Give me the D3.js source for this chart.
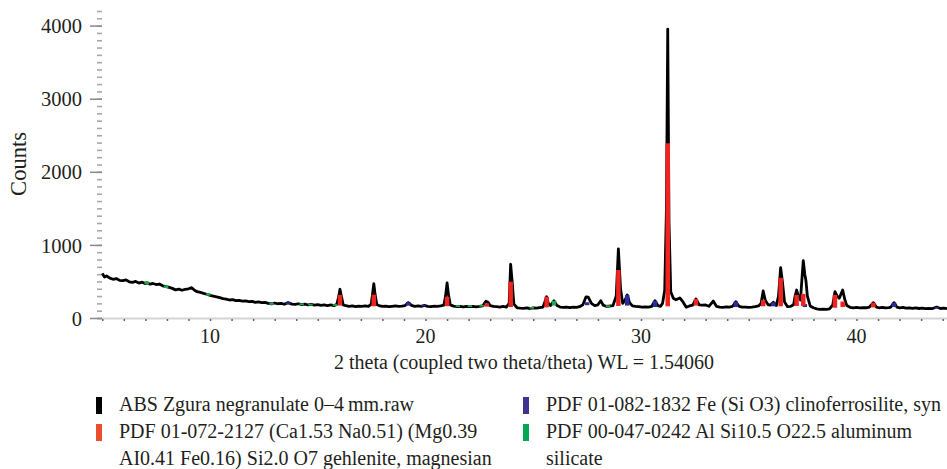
<!DOCTYPE html>
<html>
<head>
<meta charset="utf-8">
<script src="https://cdn.jsdelivr.net/npm/d3@7"></script>
<style>
  body { margin: 0; background: white; }
  svg text { font-family: "Liberation Serif", "DejaVu Serif", serif; fill: #231f20; }
</style>
</head>
<body>
<div id="vis"></div>
<script>
// measured pattern, [2theta, counts]
let rawPattern = [
  [5.00,610],[5.10,560],[5.20,575],[5.35,545],[5.50,530],[5.65,540],[5.80,515],[5.95,510],
  [6.10,520],[6.25,495],[6.40,488],[6.55,500],[6.70,478],[6.85,490],[7.00,470],[7.06,483],
  [7.20,465],[7.35,472],[7.50,458],[7.65,465],[7.80,440],[7.96,428],[8.10,420],[8.25,405],
  [8.40,385],[8.55,395],[8.70,380],[8.85,393],[9.00,400],[9.15,415],[9.28,380],[9.40,360],
  [9.55,350],[9.70,338],[9.85,325],[10.00,310],[10.15,300],[10.30,290],[10.45,278],[10.60,265],
  [10.75,258],[10.90,246],[11.05,250],[11.20,238],[11.35,242],[11.50,232],[11.65,235],[11.80,225],
  [11.95,228],[12.10,215],[12.25,220],[12.40,210],[12.55,214],[12.70,200],[12.86,192],[13.00,205],
  [13.15,195],[13.30,200],[13.45,188],[13.62,210],[13.80,190],[13.95,185],[14.10,195],[14.25,182],
  [14.40,190],[14.55,178],[14.70,185],[14.85,175],[15.00,182],[15.15,172],[15.30,180],[15.45,170],
  [15.60,178],[15.75,170],[15.88,185],[15.96,280],[16.03,393],[16.10,290],[16.18,180],[16.30,168],
  [16.45,160],[16.60,165],[16.75,155],[16.90,162],[17.05,158],[17.20,165],[17.35,160],[17.48,190],
  [17.54,330],[17.60,470],[17.66,320],[17.74,185],[17.88,165],[18.00,158],[18.15,162],[18.30,155],
  [18.45,160],[18.60,165],[18.75,158],[18.90,162],[19.05,170],[19.20,210],[19.35,172],[19.50,160],
  [19.65,165],[19.80,158],[19.95,172],[20.10,160],[20.25,155],[20.40,162],[20.55,158],[20.70,165],
  [20.85,175],[20.93,300],[21.00,480],[21.07,310],[21.15,180],[21.30,162],[21.45,155],[21.60,160],
  [21.75,152],[21.90,158],[22.05,155],[22.20,160],[22.35,152],[22.50,158],[22.65,165],[22.80,230],
  [22.90,215],[23.00,170],[23.15,160],[23.30,155],[23.45,150],[23.60,158],[23.75,150],[23.88,200],
  [23.95,735],[24.02,500],[24.10,190],[24.25,140],[24.40,135],[24.55,132],[24.70,138],[24.85,130],
  [25.00,140],[25.15,135],[25.30,142],[25.45,150],[25.55,230],[25.62,290],[25.70,200],[25.80,170],
  [25.96,235],[26.10,170],[26.25,150],[26.40,145],[26.55,148],[26.70,142],[26.85,150],[27.00,145],
  [27.15,155],[27.30,180],[27.45,290],[27.55,285],[27.70,200],[27.85,170],[28.00,180],[28.13,237],
  [28.25,175],[28.40,160],[28.55,164],[28.70,170],[28.85,300],[28.95,945],[29.05,400],[29.15,200],
  [29.25,240],[29.36,315],[29.47,210],[29.60,165],[29.75,158],[29.90,155],[30.05,148],[30.20,152],
  [30.35,150],[30.50,160],[30.65,235],[30.78,170],[30.90,160],[31.00,200],[31.10,380],[31.18,1500],
  [31.24,3953],[31.30,1300],[31.38,360],[31.50,270],[31.62,250],[31.80,275],[31.95,220],[32.10,146],
  [32.25,165],[32.40,175],[32.55,260],[32.70,180],[32.85,175],[33.00,178],[33.15,160],[33.35,232],
  [33.50,160],[33.65,150],[33.80,146],[33.95,152],[34.10,150],[34.25,160],[34.40,223],[34.55,160],
  [34.70,148],[34.85,150],[35.00,146],[35.15,150],[35.30,155],[35.45,165],[35.57,200],[35.67,370],
  [35.77,240],[35.90,180],[36.00,178],[36.14,215],[36.28,170],[36.38,300],[36.48,690],[36.56,500],
  [36.66,220],[36.80,155],[36.95,160],[37.08,180],[37.15,300],[37.22,383],[37.30,300],[37.40,246],
  [37.46,500],[37.53,785],[37.60,600],[37.65,520],[37.72,300],[37.85,165],[38.00,140],[38.15,125],
  [38.30,119],[38.45,122],[38.60,118],[38.75,125],[38.90,180],[39.00,360],[39.10,300],[39.20,270],
  [39.30,340],[39.36,383],[39.45,260],[39.55,170],[39.70,146],[39.85,140],[40.00,145],[40.15,138],
  [40.30,142],[40.45,140],[40.60,150],[40.78,210],[40.92,150],[41.05,140],[41.20,145],[41.35,138],
  [41.50,142],[41.60,150],[41.74,210],[41.88,148],[42.00,140],[42.15,145],[42.30,135],[42.45,140],
  [42.60,132],[42.75,138],[42.90,130],[43.05,135],[43.20,128],[43.35,132],[43.50,127],[43.72,150],
  [43.90,130],[44.05,135],[44.20,128]
]

// reference sticks, [2theta, bottom, top]
let gehleniteSticks = [
  [16.03,170,315],[17.60,160,320],[21.00,162,290],[22.84,155,200],[23.95,150,497],[25.62,145,290],
  [28.95,165,657],[31.24,160,2390],[32.55,170,260],[35.67,160,245],[36.48,160,550],[37.22,165,315],
  [37.53,165,330],[39.00,140,315],[39.36,150,225],[40.78,145,210]
]
let clinoferrositeSticks = [
  [13.62,185,215],[19.20,170,215],[19.90,160,180],[27.50,175,215],[29.36,170,315],[30.65,150,235],
  [34.40,150,225],[36.14,160,215],[37.60,150,190],[41.74,150,210],[43.72,130,150]
]
let silicateSticks = [
  [7.06,460,500],[7.96,410,445],[9.92,305,340],[12.86,180,205],[14.25,175,200],[14.66,170,195],
  [15.80,165,190],[21.50,150,175],[22.06,150,175],[22.60,155,180],[24.93,128,150],[25.96,170,235],
  [28.47,150,175]
]

let xTicks = [10, 20, 30, 40]
let yTicks = [0, 1000, 2000, 3000, 4000]

let legendItems = [
  { color: '#000000', lines: ['ABS Zgura negranulate 0\u20134\u2009mm.raw'] },
  { color: '#e94e2e', lines: ['PDF 01-072-2127 (Ca1.53 Na0.51) (Mg0.39', 'AI0.41 Fe0.16) Si2.0 O7 gehlenite, magnesian'] },
  { color: '#41328f', lines: ['PDF 01-082-1832 Fe (Si O3) clinoferrosilite, syn'] },
  { color: '#00a651', lines: ['PDF 00-047-0242 Al Si10.5 O22.5 aluminum', 'silicate'] }
]

let width = 947, height = 469

let svg = d3.select('#vis')
  .append('svg')
  .attr('width', width)
  .attr('height', height)
  .style('display', 'block')

let x = d3.scaleLinear().domain([5, 44.2]).range([102.3, 947])
let y = d3.scaleLinear().domain([0, 4200]).range([318, 11])

svg.append('defs').append('clipPath').attr('id', 'plotclip')
  .append('rect').attr('x', 99).attr('y', 0).attr('width', width - 99).attr('height', 320)

// x axis: light line with a small tick every degree
svg.append('line')
  .attr('x1', 97).attr('x2', width)
  .attr('y1', 318.5).attr('y2', 318.5)
  .attr('stroke', '#d4d4d4').attr('stroke-width', 2)

let xAxis = svg.append('g')
  .attr('transform', 'translate(0,319)')
  .call(d3.axisBottom(x).tickValues(d3.range(5, 45, 1)).tickSize(2).tickFormat(''))
xAxis.select('.domain').remove()
xAxis.selectAll('line').attr('stroke', '#666').attr('stroke-width', 1.5)

svg.append('g')
  .selectAll('text')
  .data(xTicks)
  .join('text')
  .attr('x', d => x(d))
  .attr('y', 343)
  .attr('text-anchor', 'middle')
  .style('font-size', '20px')
  .text(d => d)

// y axis: dotted look from minor ticks every 100 counts
let yMinor = svg.append('g')
  .attr('transform', 'translate(102,0)')
  .call(d3.axisLeft(y).tickValues(d3.range(0, 4300, 100)).tickSize(5).tickFormat(''))
yMinor.select('.domain').remove()
yMinor.selectAll('line').attr('stroke', '#a8a8a8').attr('stroke-width', 1.6)

let yMajor = svg.append('g')
  .attr('transform', 'translate(102,0)')
  .call(d3.axisLeft(y).tickValues(yTicks).tickSize(12).tickPadding(8).tickFormat(d3.format('d')))
yMajor.select('.domain').remove()
yMajor.selectAll('line').attr('stroke', '#8a8a8a').attr('stroke-width', 1.5)
yMajor.selectAll('text')
  .attr('dy', '0.35em')
  .style('font-size', '20.5px')
  .style('font-family', '"Liberation Serif", serif')
  .attr('fill', '#231f20')

// pattern
let plot = svg.append('g').attr('clip-path', 'url(#plotclip)')

plot.append('path')
  .datum(rawPattern)
  .attr('fill', 'none')
  .attr('stroke', '#000')
  .attr('stroke-width', 2.8)
  .attr('stroke-linejoin', 'round')
  .attr('d', d3.line().x(d => x(d[0])).y(d => y(d[1])))

function drawSticks(data, color, w) {
  plot.append('g')
    .selectAll('rect')
    .data(data)
    .join('rect')
    .attr('x', d => x(d[0]) - w / 2)
    .attr('width', w)
    .attr('y', d => y(d[2]))
    .attr('height', d => y(d[1]) - y(d[2]))
    .attr('fill', color)
}
drawSticks(silicateSticks, '#1fa84a', 4.5)
drawSticks(clinoferrositeSticks, '#2b2c9c', 4.5)
drawSticks(gehleniteSticks, '#f2231f', 4.5)

// axis titles
svg.append('text')
  .attr('transform', 'translate(26,164) rotate(-90)')
  .attr('text-anchor', 'middle')
  .style('font-size', '22.5px')
  .text('Counts')

svg.append('text')
  .attr('x', 524)
  .attr('y', 369)
  .attr('text-anchor', 'middle')
  .style('font-size', '20px')
  .text('2 theta (coupled two theta/theta) WL = 1.54060')

// legend, two columns
let legendPos = [
  { x: 96, y: 411 }, { x: 96, y: 438 },
  { x: 523, y: 411 }, { x: 523, y: 438 }
]
legendItems.forEach((item, i) => {
  let p = legendPos[i]
  svg.append('rect')
    .attr('x', p.x).attr('y', p.y - 14)
    .attr('width', 6).attr('height', 17)
    .attr('fill', item.color)
  item.lines.forEach((t, j) => {
    svg.append('text')
      .attr('x', p.x + 23)
      .attr('y', p.y + j * 26.5)
      .style('font-size', '20px')
      .text(t)
  })
})
</script>
</body>
</html>
